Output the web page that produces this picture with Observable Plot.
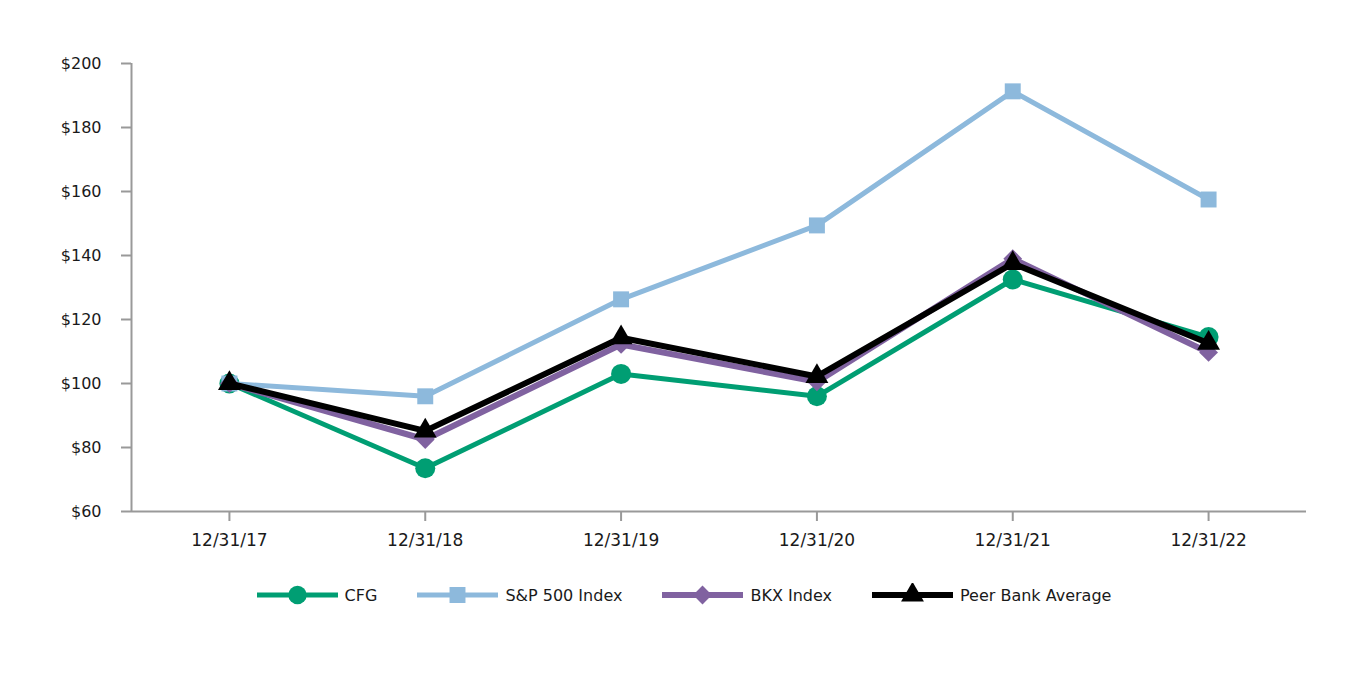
<!DOCTYPE html>
<html>
<head>
<meta charset="utf-8">
<script src="https://cdn.jsdelivr.net/npm/d3@7"></script>
<script src="https://cdn.jsdelivr.net/npm/@observablehq/plot@0.6"></script>
<style>
  body { margin: 0; background: #fff; font-family: "DejaVu Sans", sans-serif; }
  #wrap { position: relative; width: 1368px; height: 680px; }
  #legend { position: absolute; left: 0; top: 583px; width: 1368px; display: flex; justify-content: center; gap: 40px; font-size: 16px; color: #1a1a1a; }
  .item { display: flex; align-items: center; gap: 7px; }
</style>
</head>
<body>
<div id="wrap"><div id="chart"></div><div id="legend"></div></div>
<script>
const dates = ["12/31/17", "12/31/18", "12/31/19", "12/31/20", "12/31/21", "12/31/22"];
const seriesNames = ["CFG", "S&P 500 Index", "BKX Index", "Peer Bank Average"];
const cfg = [100, 73.5, 103, 96, 132.5, 114.5];
const sp500 = [100, 96, 126.3, 149.4, 191.3, 157.5];
const bkx = [100, 82.5, 112.2, 100.5, 139, 109.7];
const peer = [100, 85.2, 114.3, 102.2, 137.5, 112.6];
const yTicks = [60, 80, 100, 120, 140, 160, 180, 200];

const colors = ["#009e73", "#8db9dc", "#8062a0", "#000000"];
const strokeWidths = [5, 5, 6, 6];

// custom rhombus symbol
const diamondSym = {
  draw(ctx, size) {
    const r = Math.sqrt(size / 2);
    ctx.moveTo(0, -r); ctx.lineTo(r, 0); ctx.lineTo(0, r); ctx.lineTo(-r, 0); ctx.closePath();
  }
};
const symbols = ["circle", "square", diamondSym, "triangle"];
const radii = [10, 9, 7.5, 8.5];

const allValues = [cfg, sp500, bkx, peer];
const rows = [];
allValues.forEach((vals, s) => vals.forEach((v, i) => rows.push({series: seriesNames[s], i, v})));

const marks = [
  Plot.ruleY([60], {stroke: "#999", strokeWidth: 2}),
  Plot.ruleX([-0.5], {y1: 60, y2: 200, stroke: "#999", strokeWidth: 2}),
  Plot.axisY({ticks: yTicks, label: null, tickSize: 10, tickPadding: 20, tickFormat: d => "$" + d, stroke: "#999", strokeWidth: 2, strokeOpacity: 1, fontSize: 16, fill: "#1a1a1a"}),
  Plot.axisX({ticks: d3.range(dates.length), label: null, tickSize: 10, tickPadding: 12, tickFormat: i => dates[i], stroke: "#999", strokeWidth: 2, strokeOpacity: 1, fontSize: 17, fill: "#1a1a1a"})
];
seriesNames.forEach((name, s) => {
  const data = rows.filter(r => r.series === name);
  marks.push(Plot.line(data, {x: "i", y: "v", stroke: colors[s], strokeWidth: strokeWidths[s], strokeLinejoin: "miter"}));
  marks.push(Plot.dot(data, {x: "i", y: "v", fill: colors[s], stroke: "none", r: radii[s], symbol: symbols[s]}));
});

const chart = Plot.plot({
  width: 1368,
  height: 560,
  marginLeft: 131,
  marginRight: 62,
  marginTop: 63,
  marginBottom: 49,
  style: {fontFamily: "DejaVu Sans, sans-serif", background: "#fff"},
  x: {type: "linear", domain: [-0.5, dates.length - 0.5], label: null},
  y: {domain: [60, 200], label: null},
  marks
});
document.getElementById("chart").appendChild(chart);

// legend
const legend = d3.select("#legend");
seriesNames.forEach((name, s) => {
  const item = legend.append("div").attr("class", "item");
  const svg = item.append("svg").attr("width", 81).attr("height", 24);
  svg.append("line").attr("x1", 0).attr("x2", 81).attr("y1", 12).attr("y2", 12)
    .attr("stroke", colors[s]).attr("stroke-width", strokeWidths[s]);
  const sym = typeof symbols[s] === "string"
    ? {circle: d3.symbolCircle, square: d3.symbolSquare, triangle: d3.symbolTriangle}[symbols[s]]
    : symbols[s];
  svg.append("path").attr("transform", "translate(40.5,12)")
    .attr("d", d3.symbol(sym, Math.PI * radii[s] * radii[s] * (s === 0 ? 0.85 : 1))())
    .attr("fill", colors[s]);
  item.append("span").text(name);
});
</script>
</body>
</html>
